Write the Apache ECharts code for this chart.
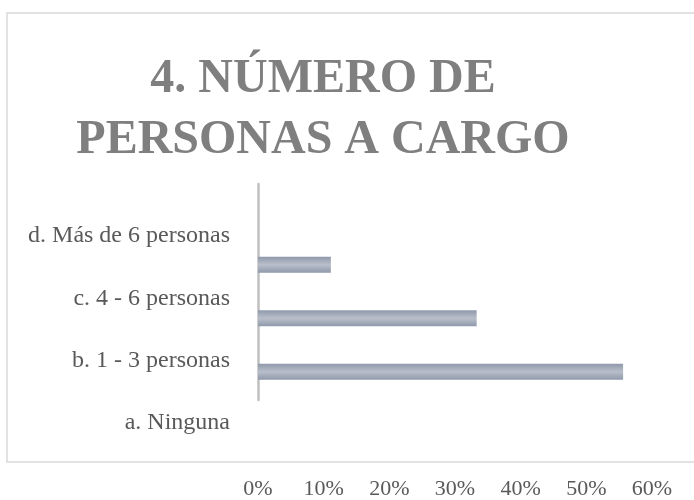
<!DOCTYPE html>
<html>
<head>
<meta charset="utf-8">
<script src="https://cdn.jsdelivr.net/npm/echarts@6/dist/echarts.min.js"></script>
<style>
html,body{margin:0;padding:0;background:#fff;}
#chart{width:694px;height:500px;}
</style>
</head>
<body>
<div id="chart"></div>
<script>
var titleText = '4. NÚMERO DE\nPERSONAS A CARGO';
var categories = ['a. Ninguna', 'b. 1 - 3 personas', 'c. 4 - 6 personas', 'd. Más de 6 personas'];
var values = [0, 55.6, 33.3, 11.1];
var xTicks = { min: 0, max: 60, interval: 10 };

var serif = '"Liberation Serif", serif';
var chart = echarts.init(document.getElementById('chart'), null, { renderer: 'canvas' });

var barColor = new echarts.graphic.LinearGradient(0, 0, 0, 1, [
  { offset: 0, color: '#8f99ab' },
  { offset: 0.5, color: '#b9bfca' },
  { offset: 1, color: '#8f99ab' }
]);

var option = {
  backgroundColor: '#ffffff',
  animation: false,
  title: {
    text: titleText,
    left: 323,
    top: 49,
    padding: 0,
    textAlign: 'center',
    textStyle: {
      fontFamily: serif,
      fontWeight: 'bold',
      fontSize: 48,
      lineHeight: 61,
      color: '#7f7f7f'
    }
  },
  graphic: [{
    type: 'rect',
    silent: true,
    z: -10,
    shape: { x: 7, y: 13, width: 720, height: 449 },
    style: { fill: 'none', stroke: '#d9d9d9', lineWidth: 1.5 }
  }],
  grid: [
    { left: 258, right: 42, top: 238, bottom: 46 },
    { left: 258, right: 42, top: 205, bottom: 46 },
    { left: 258, right: 42, top: 184, bottom: 100 }
  ],
  xAxis: [
    {
      gridIndex: 0, type: 'value', min: xTicks.min, max: xTicks.max, interval: xTicks.interval,
      axisLine: { show: false }, axisTick: { show: false }, splitLine: { show: false },
      axisLabel: { formatter: '{value}%', color: '#595959', fontFamily: serif, fontSize: 22, margin: 26 }
    },
    { gridIndex: 1, type: 'value', show: false, min: 0, max: 60 },
    { gridIndex: 2, type: 'value', show: false, min: 0, max: 60 }
  ],
  yAxis: [
    {
      gridIndex: 0, type: 'category', data: categories,
      axisLine: { show: false }, axisTick: { show: false }, axisLabel: { show: false }, splitLine: { show: false }
    },
    {
      gridIndex: 1, type: 'category', data: categories,
      axisLine: { show: false }, axisTick: { show: false }, splitLine: { show: false },
      axisLabel: { color: '#595959', fontFamily: serif, fontSize: 24, margin: 28 }
    },
    {
      gridIndex: 2, type: 'category', data: categories,
      axisLine: { show: true, lineStyle: { color: '#bfbfbf', width: 2.5 } },
      axisTick: { show: false }, axisLabel: { show: false }, splitLine: { show: false }
    }
  ],
  series: [{
    type: 'bar',
    xAxisIndex: 0,
    yAxisIndex: 0,
    data: values,
    barWidth: 16,
    itemStyle: { color: barColor }
  }]
};
chart.setOption(option);
</script>
</body>
</html>
